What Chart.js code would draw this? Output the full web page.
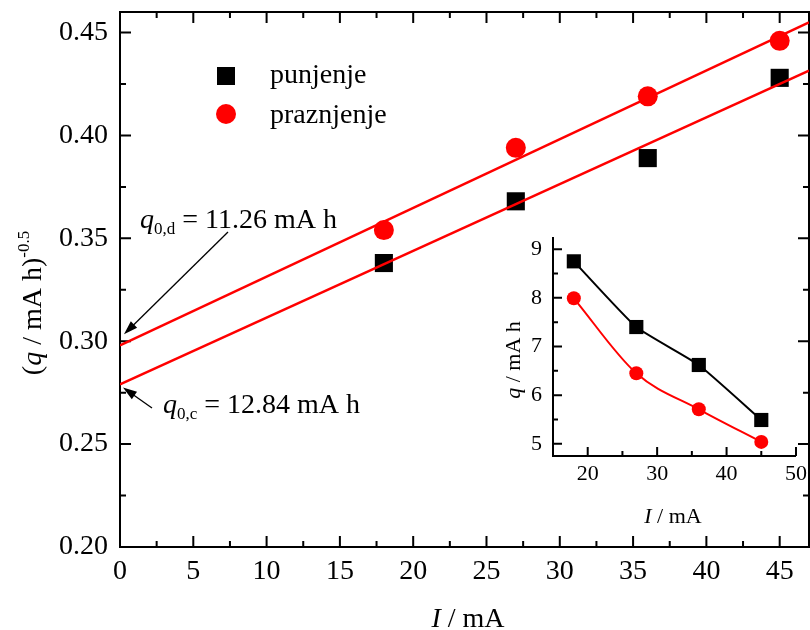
<!DOCTYPE html>
<html>
<head>
<meta charset="utf-8">
<script src="https://cdn.jsdelivr.net/npm/chart.js@4.4.0/dist/chart.umd.min.js"></script>
<style>
  html, body { margin: 0; padding: 0; background: #fff; }
  #wrap { position: relative; width: 810px; height: 630px; overflow: hidden; }
  #main { position: absolute; left: 0; top: 0; }
  #inset { position: absolute; left: 490px; top: 222px; }
</style>
</head>
<body>
<div id="wrap">
  <canvas id="main" width="810" height="630"></canvas>
  <canvas id="inset" width="320" height="320"></canvas>
</div>
<script>
// main plot: (q / mA h)^-0.5 against I
const currents = [18, 27, 36, 45];
const chargeInv = [0.338, 0.368, 0.389, 0.428];     // punjenje
const dischargeInv = [0.354, 0.394, 0.419, 0.446];  // praznjenje
const fitX = [0, 47];
const fitCharge = [0.279, 0.4315];
const fitDischarge = [0.298, 0.455];
const mainXTicks = [0, 5, 10, 15, 20, 25, 30, 35, 40, 45];
const mainYTicks = [0.20, 0.25, 0.30, 0.35, 0.40, 0.45];

// inset: q against I
const chargeQ = [8.75, 7.40, 6.62, 5.49];
const dischargeQ = [7.99, 6.45, 5.71, 5.04];
const insetXTicks = [20, 30, 40, 50];
const insetYTicks = [5, 6, 7, 8, 9];

const SERIF = "'Liberation Serif', 'Times New Roman', serif";
const RED = '#ff0000';

const pts = (xs, ys) => xs.map((x, i) => ({ x: x, y: ys[i] }));
const minors = (majors, lo, hi) => {
  const step = majors[1] - majors[0];
  const out = [];
  for (let v = majors[0] - step / 2; v <= hi + 1e-9; v += step) {
    if (v >= lo - 1e-9) out.push(v);
  }
  return out;
};

// draw a run of text pieces (italic, sub/superscripts)
function drawRuns(ctx, runs, x, y, align) {
  let total = 0;
  runs.forEach(r => { ctx.font = r.f; total += ctx.measureText(r.t).width; });
  let cx = align === 'center' ? x - total / 2 : x;
  ctx.textAlign = 'left';
  ctx.textBaseline = 'alphabetic';
  runs.forEach(r => {
    ctx.font = r.f;
    ctx.fillText(r.t, cx, y + (r.dy || 0));
    cx += ctx.measureText(r.t).width;
  });
}

function drawArrow(ctx, x1, y1, x2, y2) {
  const a = Math.atan2(y2 - y1, x2 - x1);
  const len = 14, hw = 4.5;
  ctx.beginPath();
  ctx.moveTo(x1, y1);
  ctx.lineTo(x2 - Math.cos(a) * len * 0.8, y2 - Math.sin(a) * len * 0.8);
  ctx.lineWidth = 1.3;
  ctx.strokeStyle = '#000';
  ctx.stroke();
  ctx.beginPath();
  ctx.moveTo(x2, y2);
  ctx.lineTo(x2 - Math.cos(a) * len - Math.sin(a) * hw, y2 - Math.sin(a) * len + Math.cos(a) * hw);
  ctx.lineTo(x2 - Math.cos(a) * len + Math.sin(a) * hw, y2 - Math.sin(a) * len - Math.cos(a) * hw);
  ctx.closePath();
  ctx.fillStyle = '#000';
  ctx.fill();
}

// inward ticks on a side of the chart area
function sideTicks(ctx, area, scale, values, side, len) {
  ctx.beginPath();
  values.forEach(v => {
    const p = scale.getPixelForValue(v);
    if (side === 'bottom') { ctx.moveTo(p, area.bottom); ctx.lineTo(p, area.bottom - len); }
    if (side === 'top') { ctx.moveTo(p, area.top); ctx.lineTo(p, area.top + len); }
    if (side === 'left') { ctx.moveTo(area.left, p); ctx.lineTo(area.left + len, p); }
    if (side === 'right') { ctx.moveTo(area.right, p); ctx.lineTo(area.right - len, p); }
  });
  ctx.lineWidth = 2;
  ctx.strokeStyle = '#000';
  ctx.stroke();
}

const mainDeco = {
  id: 'mainDeco',
  beforeDatasetsDraw(chart) {
    const { ctx, chartArea: a, scales: { x, y } } = chart;
    ctx.save();
    ctx.lineWidth = 2;
    ctx.strokeStyle = '#000';
    ctx.strokeRect(a.left, a.top, a.right - a.left, a.bottom - a.top);
    const xMin = minors(mainXTicks, x.min, x.max);
    const yMin = minors(mainYTicks, y.min, y.max);
    ['bottom', 'top'].forEach(s => {
      sideTicks(ctx, a, x, mainXTicks, s, 11);
      sideTicks(ctx, a, x, xMin, s, 6);
    });
    ['left', 'right'].forEach(s => {
      sideTicks(ctx, a, y, mainYTicks, s, 11);
      sideTicks(ctx, a, y, yMin, s, 6);
    });
    ctx.restore();
  },
  afterDraw(chart) {
    const { ctx, chartArea: a, scales: { x, y } } = chart;
    ctx.save();
    ctx.fillStyle = '#000';
    const big = '28px ' + SERIF, ital = 'italic 28px ' + SERIF, small = '17px ' + SERIF;

    // legend
    ctx.fillRect(217, 67, 18, 18);
    ctx.fillStyle = RED;
    ctx.beginPath();
    ctx.arc(226, 114, 10, 0, Math.PI * 2);
    ctx.fill();
    ctx.fillStyle = '#000';
    drawRuns(ctx, [{ t: 'punjenje', f: big }], 270, 83);
    drawRuns(ctx, [{ t: 'praznjenje', f: big }], 270, 123);

    // intercept annotations
    drawRuns(ctx, [
      { t: 'q', f: ital }, { t: '0,d', f: small, dy: 6 }, { t: ' = 11.26 mA h', f: big }
    ], 140, 228);
    drawRuns(ctx, [
      { t: 'q', f: ital }, { t: '0,c', f: small, dy: 6 }, { t: ' = 12.84 mA h', f: big }
    ], 163, 413);
    const x0 = x.getPixelForValue(fitX[0]);
    drawArrow(ctx, 228, 232, x0 + 4, y.getPixelForValue(fitDischarge[0]) - 11);
    drawArrow(ctx, 152, 408, x0 + 3, y.getPixelForValue(fitCharge[0]) + 3);

    // axis titles
    drawRuns(ctx, [{ t: 'I', f: ital }, { t: ' / mA', f: big }], 468, 627, 'center');
    ctx.translate(41, 303);
    ctx.rotate(-Math.PI / 2);
    drawRuns(ctx, [
      { t: '(', f: big }, { t: 'q', f: ital }, { t: ' / mA h)', f: big }, { t: '-0.5', f: small, dy: -12 }
    ], 0, 0, 'center');
    ctx.restore();
  }
};

const insetDeco = {
  id: 'insetDeco',
  beforeDatasetsDraw(chart) {
    const { ctx, chartArea: a, scales: { x, y } } = chart;
    ctx.save();
    ctx.lineWidth = 2;
    ctx.strokeStyle = '#000';
    ctx.beginPath();
    ctx.moveTo(a.left, a.top);
    ctx.lineTo(a.left, a.bottom);
    ctx.lineTo(a.right, a.bottom);
    ctx.stroke();
    sideTicks(ctx, a, x, insetXTicks, 'bottom', 9);
    sideTicks(ctx, a, x, minors(insetXTicks, x.min, x.max), 'bottom', 5);
    sideTicks(ctx, a, y, insetYTicks, 'left', 9);
    sideTicks(ctx, a, y, minors(insetYTicks, y.min, y.max), 'left', 5);
    ctx.restore();
  },
  afterDraw(chart) {
    const { ctx } = chart;
    ctx.save();
    ctx.fillStyle = '#000';
    const f = '22px ' + SERIF, fi = 'italic 22px ' + SERIF;
    drawRuns(ctx, [{ t: 'I', f: fi }, { t: ' / mA', f: f }], 183, 301, 'center');
    ctx.translate(30, 138);
    ctx.rotate(-Math.PI / 2);
    drawRuns(ctx, [{ t: 'q', f: fi }, { t: ' / mA h', f: f }], 0, 0, 'center');
    ctx.restore();
  }
};

const fixTicks = list => scale => { scale.ticks = list.map(v => ({ value: v })); };
// fixed axis size and no extra label padding, so the plot box lands where it should
const fitBox = (prop, size) => scale => {
  scale[prop] = size;
  scale.paddingTop = scale.paddingBottom = scale.paddingLeft = scale.paddingRight = 0;
};

new Chart(document.getElementById('main'), {
  type: 'scatter',
  data: {
    datasets: [
      { label: 'fit praznjenje', data: pts(fitX, fitDischarge), showLine: true, borderColor: RED, borderWidth: 2.5, pointRadius: 0 },
      { label: 'fit punjenje', data: pts(fitX, fitCharge), showLine: true, borderColor: RED, borderWidth: 2.5, pointRadius: 0 },
      { label: 'punjenje', data: pts(currents, chargeInv), pointStyle: 'rect', pointRadius: 12.8, backgroundColor: '#000', borderWidth: 0 },
      { label: 'praznjenje', data: pts(currents, dischargeInv), pointStyle: 'circle', pointRadius: 10, backgroundColor: RED, borderWidth: 0 }
    ]
  },
  options: {
    responsive: false,
    devicePixelRatio: 1,
    animation: false,
    layout: { autoPadding: false, padding: { top: 12, right: 1, left: 0, bottom: 0 } },
    plugins: { legend: { display: false }, tooltip: { enabled: false } },
    scales: {
      x: {
        type: 'linear', min: 0, max: 47,
        grid: { display: false, drawTicks: false }, border: { display: false },
        afterBuildTicks: fixTicks(mainXTicks),
        afterFit: fitBox('height', 83),
        ticks: { color: '#000', font: { family: SERIF, size: 28 }, padding: 8, maxRotation: 0, autoSkip: false }
      },
      y: {
        type: 'linear', min: 0.2, max: 0.46,
        grid: { display: false, drawTicks: false }, border: { display: false },
        afterBuildTicks: fixTicks(mainYTicks),
        afterFit: fitBox('width', 120),
        ticks: { color: '#000', font: { family: SERIF, size: 28 }, padding: 12, callback: v => v.toFixed(2) }
      }
    }
  },
  plugins: [mainDeco]
});

new Chart(document.getElementById('inset'), {
  type: 'line',
  data: {
    datasets: [
      { label: 'punjenje', data: pts(currents, chargeQ), borderColor: '#000', borderWidth: 2, tension: 0.15,
        pointStyle: 'rect', pointRadius: 10, backgroundColor: '#000', pointBorderWidth: 0 },
      { label: 'praznjenje', data: pts(currents, dischargeQ), borderColor: RED, borderWidth: 2, cubicInterpolationMode: 'monotone',
        pointStyle: 'circle', pointRadius: 7, backgroundColor: RED, pointBorderWidth: 0 }
    ]
  },
  options: {
    responsive: false,
    devicePixelRatio: 1,
    animation: false,
    layout: { autoPadding: false, padding: { top: 15, right: 14, left: 0, bottom: 0 } },
    plugins: { legend: { display: false }, tooltip: { enabled: false } },
    scales: {
      x: {
        type: 'linear', min: 15, max: 50,
        grid: { display: false, drawTicks: false }, border: { display: false },
        afterBuildTicks: fixTicks(insetXTicks),
        afterFit: fitBox('height', 86),
        ticks: { color: '#000', font: { family: SERIF, size: 22 }, padding: 5, maxRotation: 0, autoSkip: false }
      },
      y: {
        type: 'linear', min: 4.75, max: 9.25,
        grid: { display: false, drawTicks: false }, border: { display: false },
        afterBuildTicks: fixTicks(insetYTicks),
        afterFit: fitBox('width', 63),
        ticks: { color: '#000', font: { family: SERIF, size: 22 }, padding: 11 }
      }
    }
  },
  plugins: [insetDeco]
});
</script>
</body>
</html>
